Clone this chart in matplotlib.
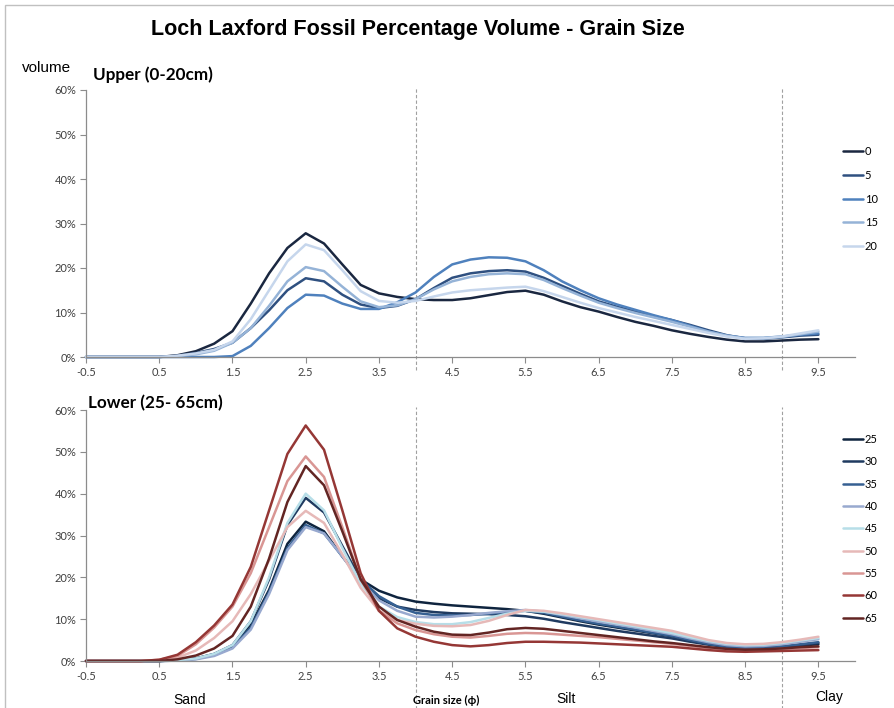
import matplotlib.pyplot as plt
from matplotlib.patches import Rectangle

# grain size (phi) sample positions
phi = [-0.5, -0.25, 0.0, 0.25, 0.5, 0.75, 1.0, 1.25, 1.5, 1.75, 2.0, 2.25, 2.5, 2.75,
       3.0, 3.25, 3.5, 3.75, 4.0, 4.25, 4.5, 4.75, 5.0, 5.25, 5.5, 5.75, 6.0, 6.25,
       6.5, 6.75, 7.0, 7.25, 7.5, 7.75, 8.0, 8.25, 8.5, 8.75, 9.0, 9.25, 9.5]

x_ticks = [-0.5, 0.5, 1.5, 2.5, 3.5, 4.5, 5.5, 6.5, 7.5, 8.5, 9.5]
y_ticks = [0, 10, 20, 30, 40, 50, 60]

# Upper core (0-20cm), % volume
upper_0 = [0, 0, 0, 0, 0, 0.4, 1.3, 3.0, 5.8, 12.0, 18.8, 24.5, 27.8, 25.5, 20.8, 16.2, 14.3,
           13.5, 13.0, 12.8, 12.8, 13.2, 13.9, 14.6, 14.9, 14.0, 12.5, 11.2, 10.2, 9.0, 7.9,
           7.0, 6.0, 5.2, 4.5, 3.9, 3.5, 3.5, 3.7, 3.9, 4.0]
upper_5 = [0, 0, 0, 0, 0, 0.3, 0.9, 1.8, 3.2, 6.5, 10.5, 15.0, 17.7, 17.0, 14.0, 11.8, 11.0,
           11.5, 13.0, 15.5, 17.8, 18.8, 19.3, 19.5, 19.2, 17.8, 16.0, 14.2, 12.5, 11.3, 10.2,
           9.2, 8.3, 7.2, 6.0, 4.9, 4.2, 4.1, 4.4, 4.8, 5.0]
upper_10 = [0, 0, 0, 0, 0, 0, 0, 0, 0.2, 2.5, 6.5, 11.0, 14.0, 13.8, 12.0, 10.8, 10.8,
            12.3, 14.5, 18.0, 20.8, 21.9, 22.4, 22.3, 21.5, 19.5, 17.0, 15.0, 13.2, 11.8, 10.6,
            9.4, 8.3, 7.0, 5.7, 4.8, 4.3, 4.3, 4.6, 5.0, 5.3]
upper_15 = [0, 0, 0, 0, 0, 0.2, 0.6, 1.4, 3.2, 6.5, 11.5, 17.0, 20.2, 19.3, 15.8, 12.5, 11.2,
            11.6, 13.0, 15.2, 17.0, 18.0, 18.6, 18.8, 18.6, 17.3, 15.5, 13.8, 12.2, 11.0, 9.9,
            8.9, 7.9, 6.8, 5.7, 4.8, 4.2, 4.2, 4.5, 5.1, 5.7]
upper_20 = [0, 0, 0, 0, 0, 0.3, 0.8, 1.6, 3.5, 8.5, 15.0, 21.5, 25.3, 24.0, 19.5, 14.8, 12.6,
            12.2, 12.6, 13.6, 14.5, 15.0, 15.3, 15.6, 15.8, 14.8, 13.5, 12.2, 11.0, 10.0, 9.0,
            8.1, 7.2, 6.3, 5.4, 4.6, 4.1, 4.2, 4.6, 5.3, 6.0]

# Lower core (25-65cm), % volume
lower_25 = [0, 0, 0, 0, 0, 0.2, 0.6, 1.6, 3.5, 8.5, 17.0, 28.0, 33.3, 31.0, 25.0, 19.5, 16.8,
            15.2, 14.2, 13.7, 13.3, 13.0, 12.7, 12.4, 12.0, 11.3, 10.4, 9.5, 8.7, 8.0, 7.3,
            6.6, 5.9, 5.0, 4.2, 3.5, 3.1, 3.1, 3.3, 3.7, 4.0]
lower_30 = [0, 0, 0, 0, 0, 0.2, 0.6, 1.7, 3.8, 9.5, 19.5, 32.5, 39.0, 35.5, 27.5, 19.5, 15.0,
            13.0, 12.2, 11.7, 11.4, 11.3, 11.2, 11.0, 10.7, 10.1, 9.3, 8.6, 7.9, 7.2, 6.6,
            6.0, 5.4, 4.6, 3.9, 3.3, 3.0, 3.0, 3.3, 3.8, 4.3]
lower_35 = [0, 0, 0, 0, 0, 0.1, 0.5, 1.4, 3.2, 8.0, 16.5, 27.0, 32.5, 30.5, 25.0, 19.5, 15.5,
            13.0, 11.5, 11.0, 10.9, 11.0, 11.3, 11.7, 12.0, 11.5, 10.6, 9.7, 8.9, 8.2, 7.5,
            6.7, 6.0, 5.0, 4.1, 3.4, 3.1, 3.2, 3.5, 4.0, 4.5]
lower_40 = [0, 0, 0, 0, 0, 0.1, 0.4, 1.2, 3.0, 7.5, 16.0, 26.5, 32.0, 30.5, 25.0, 19.0, 14.5,
            12.0, 10.6, 10.4, 10.6, 11.0, 11.5, 11.9, 12.2, 11.8, 11.0, 10.2, 9.4, 8.7, 8.0,
            7.2, 6.4, 5.4, 4.5, 3.8, 3.5, 3.6, 4.0, 4.6, 5.2]
lower_45 = [0, 0, 0, 0, 0, 0.2, 0.6, 1.7, 3.8, 9.5, 20.0, 33.0, 40.0, 36.0, 27.0, 18.5, 13.0,
            10.5, 9.3, 8.8, 8.8, 9.3, 10.3, 11.3, 12.0, 11.8, 11.2, 10.5, 9.8, 9.0, 8.3,
            7.5, 6.7, 5.7, 4.8, 4.1, 3.8, 3.9, 4.3, 4.9, 5.5]
lower_50 = [0, 0, 0, 0, 0.2, 0.8, 2.5, 5.5, 9.5, 16.0, 24.0, 32.0, 35.9, 33.0, 25.5, 17.5, 12.0,
            9.8, 8.9, 8.4, 8.3, 8.6, 9.6, 11.0, 12.2, 12.0, 11.4, 10.7, 10.0, 9.3, 8.6,
            7.9, 7.2, 6.1, 5.0, 4.3, 4.0, 4.1, 4.5, 5.1, 5.8]
lower_55 = [0, 0, 0, 0, 0.3, 1.2, 4.0, 8.0, 13.0, 21.0, 32.0, 43.0, 48.9, 44.0, 32.0, 19.5, 12.0,
            9.0, 7.4, 6.4, 5.8, 5.6, 6.0, 6.5, 6.7, 6.6, 6.3, 6.0, 5.7, 5.3, 4.9,
            4.5, 4.1, 3.6, 3.1, 2.8, 2.6, 2.7, 2.9, 3.1, 3.3]
lower_60 = [0, 0, 0, 0, 0.3, 1.5, 4.5, 8.5, 13.5, 22.5, 36.0, 49.5, 56.3, 50.5, 36.0, 21.0, 12.0,
            7.8, 5.8, 4.6, 3.8, 3.5, 3.8, 4.3, 4.6, 4.6, 4.5, 4.4, 4.2, 4.0, 3.8,
            3.6, 3.4, 3.0, 2.6, 2.3, 2.2, 2.3, 2.4, 2.5, 2.6]
lower_65 = [0, 0, 0, 0, 0, 0.4, 1.3, 3.0, 6.0, 13.0, 24.5, 38.0, 46.6, 42.0, 31.0, 19.5, 13.0,
            9.8, 8.2, 7.0, 6.3, 6.2, 6.8, 7.6, 7.9, 7.7, 7.2, 6.7, 6.2, 5.7, 5.2,
            4.7, 4.3, 3.8, 3.3, 2.9, 2.7, 2.8, 3.0, 3.3, 3.5]

upper_labels = ['0', '5', '10', '15', '20']
upper_series = [upper_0, upper_5, upper_10, upper_15, upper_20]
upper_colors = ['#1a2740', '#2f5080', '#4f81bd', '#95b3d7', '#c6d6ec']

lower_labels = ['25', '30', '35', '40', '45', '50', '55', '60', '65']
lower_series = [lower_25, lower_30, lower_35, lower_40, lower_45,
                lower_50, lower_55, lower_60, lower_65]
lower_colors = ['#0f243e', '#1f3a60', '#366092', '#98a9cf', '#b7dee8',
                '#e6b9b8', '#d99694', '#953735', '#632523']

W, H = 894, 708
fig = plt.figure(figsize=(W / 100, H / 100), dpi=100)
fig.patches.append(Rectangle((5 / W, -0.01), 1.0, 1 - 5 / H + 0.01, transform=fig.transFigure,
                             fill=False, edgecolor='#c0c0c0', linewidth=1.0))

TICK_FONT = ['Lato', 'DejaVu Sans']
ARIAL = ['Liberation Sans', 'DejaVu Sans']


def px_axes(left, top, right, bottom):
    return fig.add_axes([left / W, 1 - bottom / H, (right - left) / W, (bottom - top) / H])


def style_axes(ax, dash_ymin):
    ax.set_xlim(-0.5, 10)
    ax.set_ylim(0, 60)
    ax.set_xticks(x_ticks)
    ax.set_xticklabels([str(t) for t in x_ticks])
    ax.set_yticks(y_ticks)
    ax.set_yticklabels([f'{t}%' for t in y_ticks])
    for s in ['top', 'right']:
        ax.spines[s].set_visible(False)
    for s in ['left', 'bottom']:
        ax.spines[s].set_color('#8c8c8c')
        ax.spines[s].set_linewidth(0.9)
    ax.tick_params(axis='both', direction='out', length=4, width=0.8, color='#8c8c8c',
                   labelsize=8, labelcolor='#404040', pad=3)
    for lab in ax.get_xticklabels() + ax.get_yticklabels():
        lab.set_family(TICK_FONT)
    for xv in [4, 9]:
        ax.axvline(xv, ymin=dash_ymin, ymax=1.01, color='#a0a0a0', linestyle=(0, (3, 2)),
                   linewidth=0.8, clip_on=False, zorder=1)


# upper panel
ax1 = px_axes(86, 90, 855, 357)
for vals, lab, col in zip(upper_series, upper_labels, upper_colors):
    ax1.plot(phi, vals, color=col, linewidth=1.8, label=lab, solid_joinstyle='round',
             solid_capstyle='round', clip_on=False)
style_axes(ax1, -0.05)
ax1.legend(loc='upper left', bbox_to_anchor=(843 / W, 1 - 146 / H),
           bbox_transform=fig.transFigure, frameon=False,
           handlelength=1.8, handletextpad=0.15, labelspacing=1.15, borderpad=0,
           borderaxespad=0, prop={'family': TICK_FONT, 'size': 8})

# lower panel
ax2 = px_axes(86, 410, 855, 661)
for vals, lab, col in zip(lower_series, lower_labels, lower_colors):
    ax2.plot(phi, vals, color=col, linewidth=1.8, label=lab, solid_joinstyle='round',
             solid_capstyle='round', clip_on=False)
style_axes(ax2, -0.2)
ax2.legend(loc='upper left', bbox_to_anchor=(843 / W, 1 - 434 / H),
           bbox_transform=fig.transFigure, frameon=False,
           handlelength=1.8, handletextpad=0.15, labelspacing=1.02, borderpad=0,
           borderaxespad=0, prop={'family': TICK_FONT, 'size': 8})

# texts
fig.text(418 / W, 1 - 29 / H, 'Loch Laxford Fossil Percentage Volume - Grain Size',
         ha='center', va='center', fontsize=15.5, fontweight='bold', family=ARIAL)
fig.text(47 / W, 1 - 68 / H, 'volume', ha='center', va='center', fontsize=11, family=ARIAL)
fig.text(93 / W, 1 - 75 / H, 'Upper (0-20cm)', ha='left', va='center', fontsize=12.3,
         fontweight='bold', family=TICK_FONT)
fig.text(88 / W, 1 - 403 / H, 'Lower (25- 65cm)', ha='left', va='center', fontsize=12.3,
         fontweight='bold', family=TICK_FONT)
fig.text(190 / W, 1 - 700 / H, 'Sand', ha='center', va='center', fontsize=10, family=ARIAL)
fig.text(566 / W, 1 - 699 / H, 'Silt', ha='center', va='center', fontsize=10, family=ARIAL)
fig.text(829 / W, 1 - 697 / H, 'Clay', ha='center', va='center', fontsize=10, family=ARIAL)
fig.text(446 / W, 1 - 700 / H, 'Grain size (ϕ)', ha='center', va='center', fontsize=8,
         fontweight='bold', family=['Lato', 'DejaVu Sans'])

fig.savefig('out.png', dpi=100)
